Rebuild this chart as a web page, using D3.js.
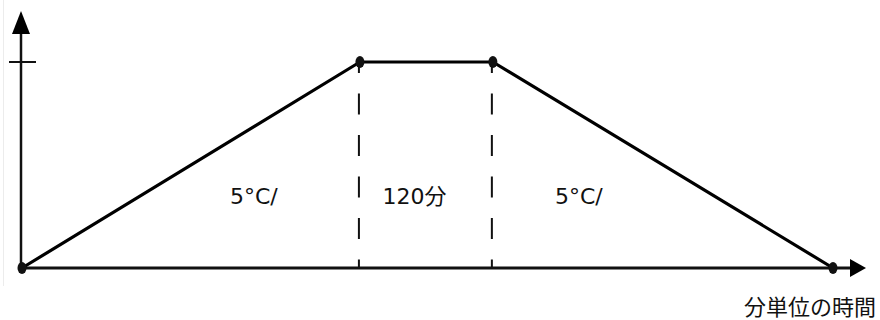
<!DOCTYPE html>
<html>
<head>
<meta charset="utf-8">
<script src="https://cdn.jsdelivr.net/npm/d3@7"></script>
<style>
  body { margin: 0; background: #fff; }
  svg { display: block; }
</style>
</head>
<body>
<div id="chart"></div>
<script>
// schematic temperature profile (time in minutes, temperature as % of hold level)
var times = [0, 305, 425, 732];
var temps = [0, 100, 100, 0];
var segLabels = ["5°C/", "120分", "5°C/"];
var xLabel = "分単位の時間";

var width = 880, height = 320;
var svg = d3.select("#chart").append("svg")
    .attr("width", width)
    .attr("height", height);

var x = d3.scaleLinear().domain([0, 732]).range([22, 833]);
var y = d3.scaleLinear().domain([0, 100]).range([268, 62]);

var pts = times.map(function (t, i) { return { t: t, v: temps[i] }; });

// faint frame edge
svg.append("line")
    .attr("x1", 3.5).attr("x2", 3.5)
    .attr("y1", 0).attr("y2", 286)
    .attr("stroke", "#ececec")
    .attr("stroke-width", 1);

// dashed drop lines at the hold start/end
svg.selectAll(".drop")
    .data(pts.slice(1, 3))
    .enter()
    .append("line")
    .attr("class", "drop")
    .attr("x1", function (d) { return x(d.t) - 1; })
    .attr("x2", function (d) { return x(d.t) - 1; })
    .attr("y1", function (d) { return y(d.v); })
    .attr("y2", y(0))
    .attr("stroke", "#111")
    .attr("stroke-width", 2)
    .style("stroke-dasharray", "21,20.5")
    .style("stroke-dashoffset", 10);

// x axis
var x0 = x(0), y0 = y(0);
svg.append("line")
    .attr("x1", x0).attr("x2", 852)
    .attr("y1", y0).attr("y2", y0)
    .attr("stroke", "#111")
    .attr("stroke-width", 3);
svg.append("path")
    .attr("d", "M850," + (y0 - 9) + "L866," + y0 + "L850," + (y0 + 9) + "Z")
    .attr("fill", "#000");

// y axis
svg.append("line")
    .attr("x1", 21).attr("x2", 21)
    .attr("y1", y0).attr("y2", 32)
    .attr("stroke", "#111")
    .attr("stroke-width", 2.5);
svg.append("path")
    .attr("d", "M12,34L21,11L30,34Z")
    .attr("fill", "#000");
svg.append("line")
    .attr("x1", 9).attr("x2", 36)
    .attr("y1", y(100)).attr("y2", y(100))
    .attr("stroke", "#111")
    .attr("stroke-width", 2);

// profile line
var line = d3.line()
    .x(function (d) { return x(d.t); })
    .y(function (d) { return y(d.v); });

svg.append("path")
    .datum(pts)
    .attr("d", line)
    .attr("fill", "none")
    .attr("stroke", "#000")
    .attr("stroke-width", 3.2)
    .attr("stroke-linejoin", "round");

svg.selectAll(".pt")
    .data(pts)
    .enter()
    .append("ellipse")
    .attr("class", "pt")
    .attr("cx", function (d) { return x(d.t); })
    .attr("cy", function (d) { return y(d.v); })
    .attr("rx", 4.5)
    .attr("ry", 6)
    .attr("fill", "#111");

// segment labels, placed near the hold lines
var labelX = [
    x(times[1]) - 106,
    (x(times[1]) + x(times[2])) / 2 - 12,
    x(times[2]) + 86
];
svg.selectAll(".seg")
    .data(segLabels)
    .enter()
    .append("text")
    .attr("class", "seg")
    .attr("x", function (d, i) { return labelX[i]; })
    .attr("y", 204)
    .attr("text-anchor", "middle")
    .style("font-family", "'DejaVu Sans', 'Noto Sans CJK JP', sans-serif")
    .style("font-size", "22px")
    .style("fill", "#111")
    .text(function (d) { return d; });

svg.append("text")
    .attr("x", 876)
    .attr("y", 315)
    .attr("text-anchor", "end")
    .style("font-family", "'Noto Sans CJK JP', sans-serif")
    .style("font-size", "22px")
    .style("fill", "#111")
    .text(xLabel);
</script>
</body>
</html>
